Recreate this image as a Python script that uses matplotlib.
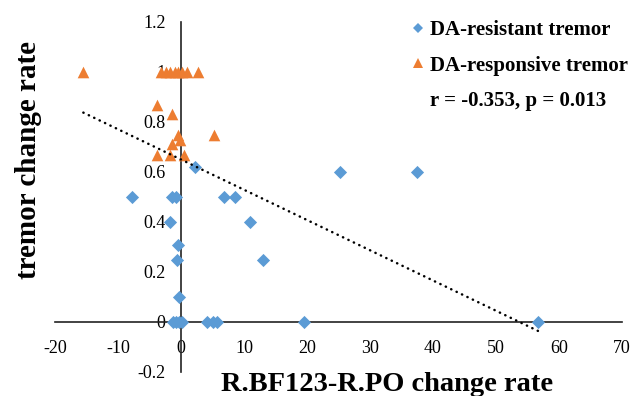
import matplotlib
matplotlib.use('Agg')
import matplotlib.pyplot as plt
import numpy as np
from matplotlib.lines import Line2D

# data
resistant_x = [-7.8, -1.5, -0.8, -1.7, 10.9, -0.5, -0.6, 13.0, -0.3,
               -1.3, -0.8, -0.3, 0.2, 4.2, 5.0, 5.7, 19.5, 56.7,
               2.3, 6.9, 8.5, 25.2, 37.4]
resistant_y = [0.5, 0.5, 0.5, 0.4, 0.4, 0.31, 0.25, 0.25, 0.1,
               0, 0, 0, 0, 0, 0, 0, 0, 0,
               0.62, 0.5, 0.5, 0.6, 0.6]

responsive_x = [-15.5, -3.1, -2.4, -1.7, -1.0, -0.4, 0.2, 0.9, 2.7,
                -3.8, -1.5, -0.5, 5.2, -1.4, -0.2, -3.8, -1.7, 0.4]
responsive_y = [1, 1, 1, 1, 1, 1, 1, 1, 1,
                0.867, 0.833, 0.75, 0.75, 0.714, 0.727, 0.667, 0.667, 0.667]

# linear trend line
trend_slope = -0.0121
trend_intercept = 0.65

x_ticks = [-20, -10, 0, 10, 20, 30, 40, 50, 60, 70]
y_ticks = [-0.2, 0, 0.2, 0.4, 0.6, 0.8, 1, 1.2]
y_ticklabels = ['-0.2', '0', '0.2', '0.4', '0.6', '0.8', '1', '1.2']

blue = '#5B9BD5'
orange = '#ED7D31'
plt.rcParams['font.family'] = ['Liberation Serif', 'DejaVu Serif']
plt.rcParams['axes.unicode_minus'] = False

fig = plt.figure(figsize=(6.33, 3.96), dpi=100)
ax = fig.add_axes([55 / 633, 24 / 396, 567 / 633, 350 / 396])

ax.scatter(resistant_x, resistant_y, marker='D', s=45, color=blue, zorder=3,
           linewidths=0)
ax.scatter(responsive_x, responsive_y, marker='^', s=70, color=orange, zorder=3,
           linewidths=0)

all_x = np.array(resistant_x + responsive_x)
tx = np.array([all_x.min(), all_x.max()])
ax.plot(tx, trend_intercept + trend_slope * tx, color='black', lw=1.8,
        linestyle=(0, (0.1, 2.3)), dash_capstyle='round', zorder=4)

ax.set_xlim(-20, 70)
ax.set_ylim(-0.2, 1.2)
ax.set_xticks(x_ticks)
ax.set_yticks(y_ticks)
ax.set_yticklabels(y_ticklabels)

ax.spines['left'].set_position(('data', 0))
ax.spines['bottom'].set_position(('data', 0))
ax.spines['right'].set_visible(False)
ax.spines['top'].set_visible(False)
for s in ['left', 'bottom']:
    ax.spines[s].set_linewidth(1.2)
    ax.spines[s].set_color('#222222')
ax.tick_params(axis='x', length=0, pad=13, labelsize=13)
ax.tick_params(axis='y', length=0, pad=11, labelsize=13)
ax.set_facecolor('none')

fig.text(29 / 633, 1 - 160 / 396, 'tremor change rate', rotation=90,
         ha='center', va='center', fontsize=21, fontweight='bold')
fig.text(387.5 / 633, 5 / 396, 'R.BF123-R.PO change rate', ha='center',
         va='baseline', fontsize=20.5, fontweight='bold')

handles = [Line2D([], [], marker='D', color=blue, ls='none', markersize=5.5,
                  markeredgewidth=0),
           Line2D([], [], marker='^', color=orange, ls='none', markersize=7,
                  markeredgewidth=0)]
ax.legend(handles, ['DA-resistant tremor', 'DA-responsive tremor'],
          loc='upper left', bbox_to_anchor=(412 / 633, 1 - 20 / 396),
          bbox_transform=fig.transFigure, frameon=False, handlelength=0.6,
          handletextpad=0.25, labelspacing=0.75, borderpad=0, borderaxespad=0,
          prop={'weight': 'bold', 'size': 15})
fig.text(430 / 633, 1 - 101 / 396, 'r = -0.353, p = 0.013', ha='left',
         va='center', fontsize=15, fontweight='bold')

fig.savefig('out.png', dpi=100)
